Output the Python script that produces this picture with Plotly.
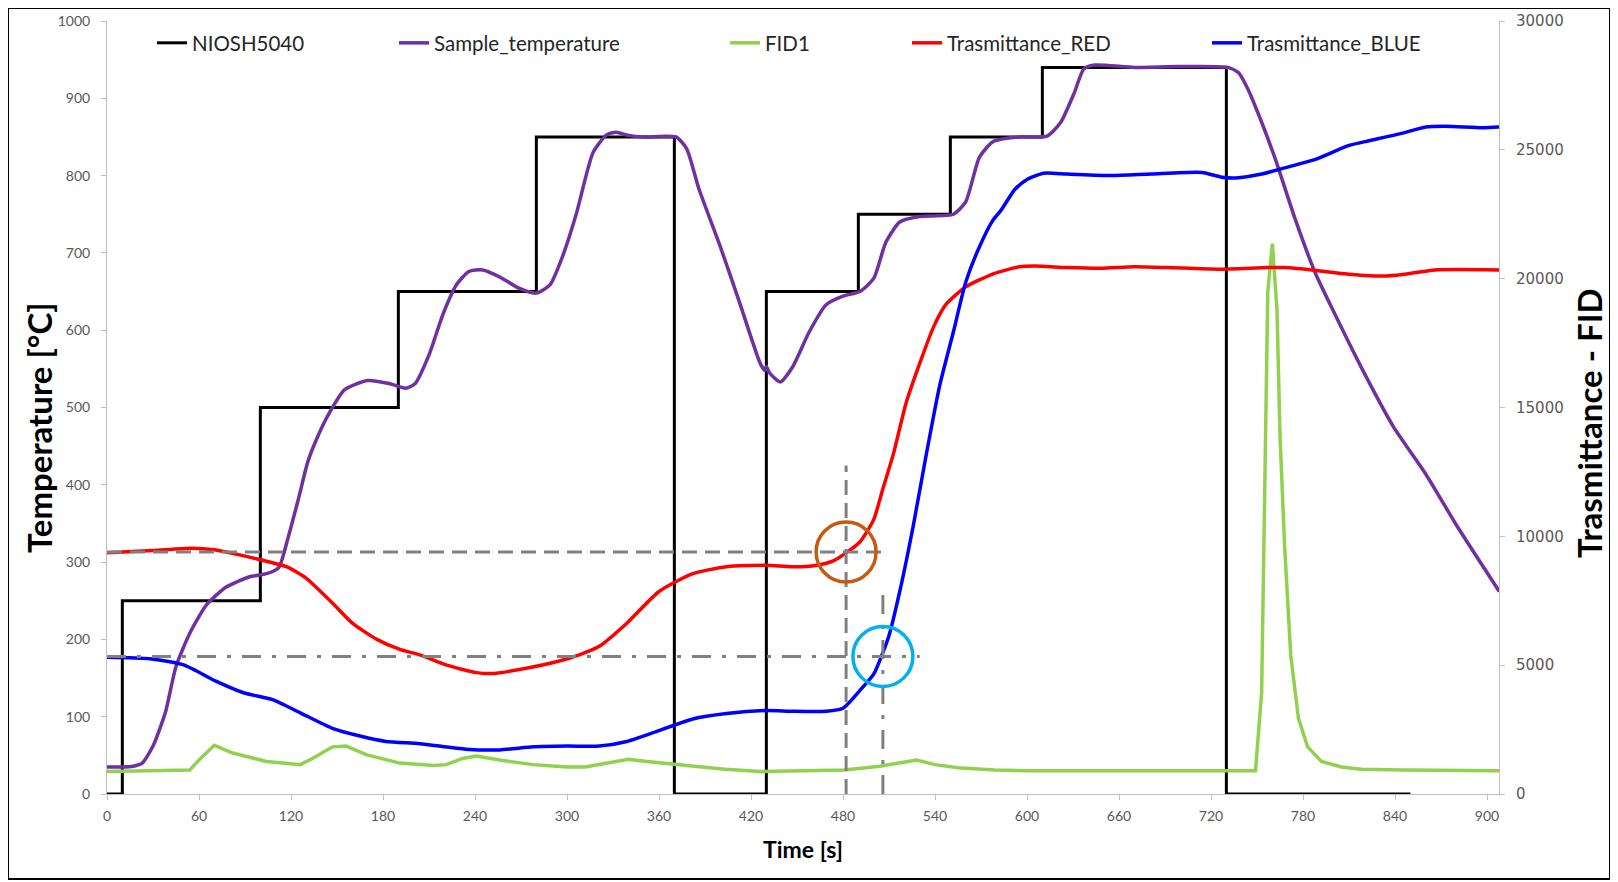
import plotly.graph_objects as go

# ---------------- data ----------------
niosh_t = [0, 10, 100, 190, 280, 370, 430, 490, 550, 610, 730, 850]
niosh_temp = [0, 250, 500, 650, 850, 0, 650, 750, 850, 940, 0, 0]

sample_t = [0, 10, 17, 23, 30, 38, 45, 54, 65, 78, 93, 104, 112, 118, 125, 131, 138, 145, 155, 170,
            184, 195, 201, 210, 219, 228, 236, 245, 256, 269, 280, 289, 297, 306, 317, 326, 332, 340,
            350, 371, 378, 386, 400, 413, 426, 429, 430, 432, 439, 447, 458, 469, 480, 491, 500, 508,
            517, 530, 552, 560, 569, 578, 595, 613, 622, 631, 637, 644, 670, 698, 731, 738, 744, 753,
            762, 775, 788, 799, 819, 839, 860, 880, 908]
sample_temp = [35, 35, 36, 40, 62, 105, 165, 208, 245, 268, 281, 285, 293, 331, 383, 430, 465, 493, 523, 535,
               531, 525, 531, 568, 620, 659, 676, 678, 669, 654, 648, 659, 695, 750, 830, 853, 856, 852,
               850, 850, 835, 783, 708, 633, 557, 548, 553, 545, 533, 552, 598, 633, 644, 650, 667, 714,
               740, 747, 750, 766, 824, 844, 850, 851, 869, 908, 938, 943, 940, 941, 940, 933, 912, 869,
               821, 743, 674, 628, 548, 475, 414, 348, 262]

fid_t = [0, 54, 60, 70, 82, 104, 120, 126, 134, 147, 156, 169, 191, 213, 221, 232, 241, 256, 278, 300,
         312, 326, 334, 340, 352, 372, 403, 426, 465, 481, 504, 520, 528, 540, 555, 579, 600, 700, 749,
         753, 755, 757, 760, 763, 765, 768, 772, 777, 783, 792, 805, 818, 845, 908]
fid_val = [870, 930, 1320, 1890, 1590, 1260, 1170, 1140, 1380, 1830, 1860, 1530, 1200, 1110, 1140, 1380,
           1470, 1320, 1140, 1050, 1050, 1200, 1320, 1350, 1260, 1140, 960, 870, 900, 930, 1080, 1230,
           1320, 1140, 1020, 930, 900, 900, 900, 3930, 12420, 19500, 21360, 18810, 13860, 9600, 5370,
           2940, 1830, 1260, 1050, 960, 930, 900]

red_t = [0, 30, 55, 70, 85, 100, 117, 130, 147, 160, 176, 191, 204, 221, 241, 252, 269, 295, 308, 321,
         339, 360, 382, 404, 430, 447, 463, 474, 482, 491, 500, 506, 513, 521, 530, 539, 547, 560, 578,
         595, 605, 626, 648, 670, 692, 725, 757, 768, 790, 812, 832, 845, 866, 908]
red_val = [9360, 9450, 9540, 9480, 9300, 9090, 8820, 8370, 7410, 6630, 6000, 5610, 5400, 5010, 4710, 4680,
           4830, 5160, 5400, 5730, 6630, 7860, 8550, 8820, 8880, 8820, 8880, 9060, 9360, 9780, 10650,
           11850, 13230, 15150, 16710, 18120, 18990, 19680, 20190, 20460, 20490, 20430, 20400, 20460,
           20430, 20370, 20430, 20430, 20310, 20160, 20100, 20160, 20340, 20340]

blue_t = [0, 28, 50, 71, 89, 108, 126, 147, 165, 182, 204, 234, 256, 278, 300, 321, 339, 360, 382, 404,
          430, 447, 469, 480, 491, 500, 505, 510, 517, 526, 534, 543, 552, 560, 569, 578, 583, 592, 600,
          611, 626, 655, 681, 714, 727, 736, 753, 768, 788, 810, 823, 845, 860, 873, 897, 908]
blue_val = [5310, 5250, 5010, 4380, 3930, 3660, 3150, 2550, 2250, 2040, 1950, 1740, 1710, 1830, 1860, 1860,
            2040, 2460, 2910, 3120, 3240, 3210, 3210, 3330, 4020, 4650, 5340, 6150, 7860, 10470, 13080,
            15840, 17940, 19860, 21240, 22290, 22650, 23460, 23850, 24090, 24060, 24000, 24060, 24120,
            23940, 23910, 24060, 24300, 24630, 25170, 25350, 25650, 25890, 25920, 25860, 25890]

# onset markers (time [s], temperature [C])
red_onset = (482, 313)
blue_onset = (506, 178)
red_guide_ends = (510, 425)   # horizontal end time, vertical top temperature
blue_guide_ends = (530, 265)

x_ticks = list(range(0, 901, 60))

# ---------------- figure ----------------
TICKFONT = dict(family="Lato", size=14, color="#595959")
AXCOL = "#BFBFBF"

fig = go.Figure()

fig.add_trace(go.Scatter(x=niosh_t, y=niosh_temp, name="NIOSH5040", mode="lines",
                         line=dict(color="black", width=3, shape="hv"), legend="legend"))
fig.add_trace(go.Scatter(x=sample_t, y=sample_temp, name="Sample_temperature", mode="lines",
                         line=dict(color="#7030A0", width=3.5, shape="spline", smoothing=0.6),
                         legend="legend2"))
fig.add_trace(go.Scatter(x=fid_t, y=fid_val, name="FID1", mode="lines", yaxis="y2",
                         line=dict(color="#92D050", width=3.5), legend="legend3"))
fig.add_trace(go.Scatter(x=red_t, y=red_val, name="Trasmittance_RED", mode="lines", yaxis="y2",
                         line=dict(color="#FF0000", width=3.5, shape="spline", smoothing=0.6),
                         legend="legend4"))
fig.add_trace(go.Scatter(x=blue_t, y=blue_val, name="Trasmittance_BLUE", mode="lines", yaxis="y2",
                         line=dict(color="#0000FF", width=3.5, shape="spline", smoothing=0.6),
                         legend="legend5"))

GRAY = "#808080"
PW, PH = 1392.0, 773.0
# plot-area pixel origin in page coordinates (page body adds 8px)
PL, PT = 107.0, 21.0

def px_x(p):
    return (p - PL) / PW

def px_y(p):
    return (PT + PH - p) / PH

shapes = [
    dict(type="line", xref="x", yref="y", x0=0, x1=red_guide_ends[0], y0=red_onset[1], y1=red_onset[1],
         line=dict(color=GRAY, width=3, dash="15px,8px")),
    dict(type="line", xref="x", yref="y", x0=red_onset[0], x1=red_onset[0], y0=0, y1=red_guide_ends[1],
         line=dict(color=GRAY, width=3, dash="15px,8px")),
    dict(type="line", xref="x", yref="y", x0=0, x1=blue_guide_ends[0], y0=blue_onset[1], y1=blue_onset[1],
         line=dict(color=GRAY, width=3, dash="19px,11px,4px,11px")),
    dict(type="line", xref="x", yref="y", x0=blue_onset[0], x1=blue_onset[0], y0=0, y1=blue_guide_ends[1],
         line=dict(color=GRAY, width=3, dash="19px,11px,4px,11px")),
    dict(type="circle", xref="x", yref="y", xsizemode="pixel", ysizemode="pixel",
         xanchor=red_onset[0], yanchor=red_onset[1], x0=-30, x1=30, y0=-30, y1=30,
         line=dict(color="#C55A11", width=3.5)),
    dict(type="circle", xref="x", yref="y", xsizemode="pixel", ysizemode="pixel",
         xanchor=blue_onset[0], yanchor=blue_onset[1], x0=-30, x1=30, y0=-30, y1=30,
         line=dict(color="#00B0F0", width=3.5)),
    # outer frame
    dict(type="rect", xref="paper", yref="paper", x0=px_x(8), x1=px_x(1610), y0=px_y(879), y1=px_y(8),
         line=dict(color="black", width=2), layer="below"),
]

annotations = [
    dict(text="Temperature [°C]", xref="paper", yref="paper", x=px_x(39), y=px_y(428), showarrow=False,
         textangle=-90, font=dict(family="Lato", size=33, color="black", weight="bold"),
         xanchor="center", yanchor="middle"),
    dict(text="Trasmittance - FID", xref="paper", yref="paper", x=px_x(1589), y=px_y(423), showarrow=False,
         textangle=-90, font=dict(family="Lato", size=33, color="black", weight="bold"),
         xanchor="center", yanchor="middle"),
    dict(text="Time [s]", xref="paper", yref="paper", x=px_x(803), y=px_y(849), showarrow=False,
         font=dict(family="Lato", size=23, color="black", weight="bold"),
         xanchor="center", yanchor="middle"),
]

def lx(p):
    return px_x(p - 3)

legend_common = dict(y=px_y(43), yanchor="middle", xanchor="left", bgcolor="rgba(0,0,0,0)",
                     borderwidth=0, font=dict(family="Lato", size=20.5, color="#262626"))

fig.update_layout(
    width=1610, height=874,
    margin=dict(l=99, r=119, t=13, b=88, autoexpand=False),
    plot_bgcolor="white", paper_bgcolor="white",
    showlegend=True,
    xaxis=dict(range=[0, 907.8], tickvals=x_ticks, showline=True, linecolor=AXCOL, linewidth=1,
               ticks="outside", ticklen=5, tickcolor=AXCOL, showgrid=False, zeroline=False,
               tickfont=TICKFONT, ticklabelstandoff=4),
    yaxis=dict(range=[0, 1000], dtick=100, showline=True, linecolor=AXCOL, linewidth=1,
               ticks="outside", ticklen=5, tickcolor=AXCOL, showgrid=False, zeroline=False,
               tickfont=TICKFONT, ticklabelstandoff=8),
    yaxis2=dict(range=[0, 30000], dtick=5000, overlaying="y", side="right", showline=True,
                linecolor=AXCOL, linewidth=1, ticks="outside", ticklen=5, tickcolor=AXCOL,
                showgrid=False, zeroline=False, ticklabelstandoff=8, tickformat="d",
                tickfont=dict(family="DejaVu Sans", size=15, color="#595959")),
    shapes=shapes,
    annotations=annotations,
    legend=dict(x=lx(155), **legend_common),
    legend2=dict(x=lx(397), **legend_common),
    legend3=dict(x=lx(728), **legend_common),
    legend4=dict(x=lx(910), **legend_common),
    legend5=dict(x=lx(1210), **legend_common),
)

fig.write_html("out.html")
